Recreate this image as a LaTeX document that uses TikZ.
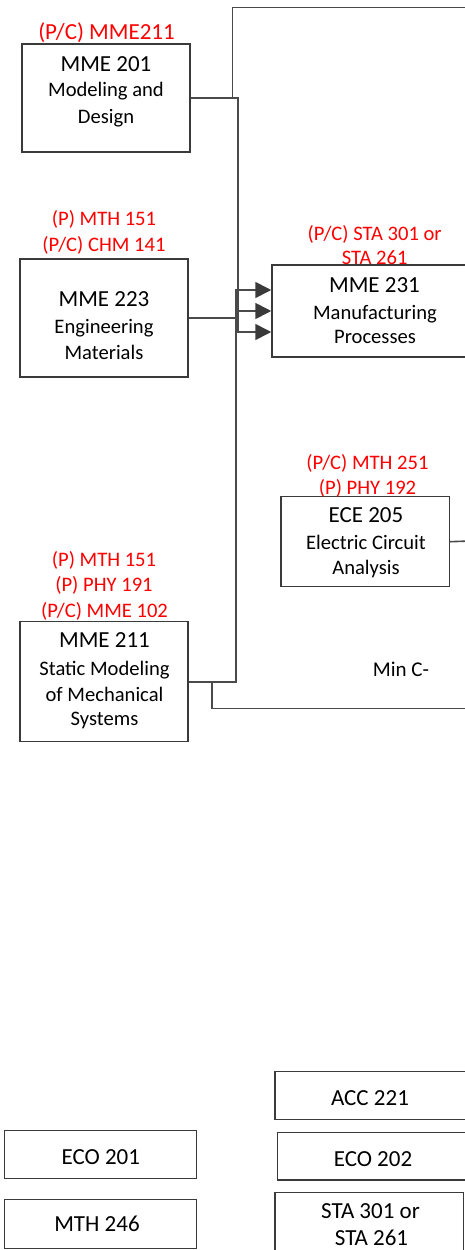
\documentclass[tikz,border=0pt]{standalone}
\usepackage{fontspec}
\setmainfont{Carlito}
\usetikzlibrary{arrows.meta,fit}
\definecolor{req}{HTML}{FF0000}
\definecolor{edgec}{HTML}{3A3A3A}
\definecolor{wirec}{HTML}{4A4A4A}
\tikzset{
  cbox/.style={draw=edgec, line width=1.5pt, inner sep=0pt},
  tt/.style={anchor=base, inner sep=0pt, font=\fontsize{23}{27}\selectfont},
  st/.style={anchor=base, inner sep=0pt, font=\fontsize{20.6}{25}\selectfont},
  rl/.style={anchor=base, inner sep=0pt, text=req, font=\fontsize{20.6}{25}\selectfont},
  rlb/.style={anchor=base, inner sep=0pt, text=req, font=\fontsize{23}{27}\selectfont},
  wire/.style={draw=wirec, line width=1.6pt},
  tip/.style={-{Triangle[length=16pt,width=16pt,color=edgec]}}
}
\begin{document}
\begin{tikzpicture}[x=1pt,y=-1pt]
\useasboundingbox (0,0) rectangle (465,1250);
\clip (0,0) rectangle (465,1250);

% boxes
\node[cbox, fit={(22,44) (190,152)}] (n201) {};
\node[cbox, fit={(20,259) (188,377)}] (n223) {};
\node[cbox, fit={(272,265) (480,357)}] (n231) {};
\node[cbox, fit={(281,496.7) (449.3,586.7)}] (n205) {};
\node[cbox, fit={(20,621.7) (188,741.7)}] (n211) {};
\node[cbox, fit={(275,1071.7) (480,1119.3)}] (acc) {};
\node[cbox, fit={(4.3,1130.7) (196.7,1178.3)}] (eco1) {};
\node[cbox, fit={(277.3,1132.7) (480,1180)}] (eco2) {};
\node[cbox, fit={(4.3,1199.3) (196.7,1248.3)}] (mth) {};
\node[cbox, fit={(275,1192.7) (463.3,1262)}] (sta) {};

% MME 201
\node[rlb] (l201) at (106.5,39) {(P/C) MME211};
\node[tt] (t201a) at (106,71) {MME 201};
\node[st] (t201b) at (106,96.7) {Modeling and};
\node[st] (t201c) at (106,123.3) {Design};

% MME 223
\node[rl] (l223a) at (104,225) {(P) MTH 151};
\node[rl] (l223b) at (104,251) {(P/C) CHM 141};
\node[tt] (t223a) at (104,306.7) {MME 223};
\node[st] (t223b) at (104,333.3) {Engineering};
\node[st] (t223c) at (104,359.3) {Materials};

% MME 231
\node[rl] (l231a) at (374.7,240) {(P/C) STA 301 or};
\node[rl] (l231b) at (374.7,264) {STA 261};
\node[tt] (t231a) at (374.5,292.7) {MME 231};
\node[st] (t231b) at (375,319.3) {Manufacturing};
\node[st] (t231c) at (375,343.3) {Processes};

% ECE 205
\node[rl] (l205a) at (367.5,469.3) {(P/C) MTH 251};
\node[rl] (l205b) at (367.5,494) {(P) PHY 192};
\node[tt] (t205a) at (366,522.3) {ECE 205};
\node[st] (t205b) at (366,549.3) {Electric Circuit};
\node[st] (t205c) at (366,574.3) {Analysis};

% MME 211
\node[rl] (l211a) at (104,566.7) {(P) MTH 151};
\node[rl] (l211b) at (104,591.7) {(P) PHY 191};
\node[rl] (l211c) at (104.5,617.7) {(P/C) MME 102};
\node[tt] (t211a) at (104.5,647.7) {MME 211};
\node[st] (t211b) at (104.5,675) {Static Modeling};
\node[st] (t211c) at (104.5,701) {of Mechanical};
\node[st] (t211d) at (104.5,725.7) {Systems};

\node[anchor=base, inner sep=0pt, font=\fontsize{21}{25}\selectfont] (minc) at (401,676.7) {Min C-};

% bottom boxes text
\node[tt] (tacc) at (370,1105) {ACC 221};
\node[tt] (teco1) at (100.8,1164.3) {ECO 201};
\node[tt] (teco2) at (373,1166) {ECO 202};
\node[tt] (tmth) at (97,1231.7) {MTH 246};
\node[tt] (tstaa) at (370.5,1218.3) {STA 301 or};
\node[tt] (tstab) at (371.5,1245) {STA 261};

% off-picture ends
\coordinate (offtop) at (470,7.3);
\coordinate (off211) at (470,708.3);
\coordinate (off205) at (470,541);
\coordinate (j201) at (232.3,98);
\coordinate (j211) at (211.7,681.7);

% connectors
\draw[wire,tip] (n201.east) -- (237.7,98) |- ([yshift=-21pt]n231.west);
\draw[wire] (j201) |- (offtop);
\draw[wire,tip] (n223.east) -- (235.7,318) |- (n231.west);
\draw[wire,tip] (n211.east) -- (235.7,681.7) |- ([yshift=21pt]n231.west);
\draw[wire] (j211) |- (off211);
\draw[wire] (n205.east) -- (off205);
\end{tikzpicture}
\end{document}
